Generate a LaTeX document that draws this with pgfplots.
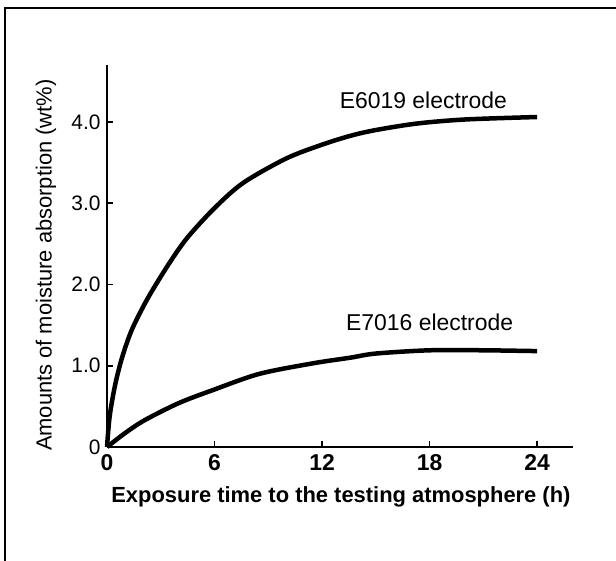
\documentclass[border=0pt]{standalone}
\usepackage{pgfplots}
\pgfplotsset{compat=1.18}
\usepackage{fontspec}
\setmainfont{Liberation Sans}
\begin{document}
\begin{tikzpicture}[x=1bp,y=1bp]
\path[use as bounding box] (0,0) rectangle (616,-561);
\draw[line width=2.4bp] (5,-561) -- (5,-8) -- (617,-8);
\begin{axis}[
  at={(107bp,-447bp)}, anchor=south west,
  scale only axis, width=466bp, height=382bp,
  xmin=0, xmax=26, ymin=0, ymax=4.7,
  axis lines*=left,
  axis line style={line width=2.2bp},
  tick align=inside,
  major tick length=6bp,
  every tick/.style={line width=1.6bp, black},
  xtick={0,6,12,18,24},
  ytick={0,1,2,3,4},
  yticklabels={0,1.0,2.0,3.0,4.0},
  /pgf/number format/assume math mode=true,
  x tick label style={font=\fontsize{23}{23}\selectfont\bfseries, yshift=-4bp},
  y tick label style={font=\fontsize{21}{21}\selectfont, xshift=-3bp},
  xlabel={Exposure time to the testing atmosphere (h)},
  ylabel={Amounts of moisture absorption (wt\%)},
  x label style={at={(axis description cs:0.502,-0.131)}, anchor=center, font=\fontsize{22}{22}\selectfont\bfseries},
  y label style={at={(axis description cs:-0.131,0.476)}, anchor=center, rotate=0, font=\fontsize{22}{22}\selectfont},
  clip=false,
]
\addplot[line width=4.5bp, black, smooth, tension=0.5] coordinates {
(0,0) (0.15,0.38) (0.45,0.76) (0.84,1.1) (1.4,1.45) (2.3,1.84) (3.5,2.27) (4.5,2.58) (6,2.94) (7.6,3.25) (10,3.55) (12,3.72) (13.6,3.83) (15,3.9) (17.3,3.98) (20,4.03) (24,4.06)
};
\addplot[line width=4.5bp, black, smooth, tension=0.5] coordinates {
(0,0) (1,0.17) (2.1,0.33) (4,0.54) (5.9,0.70) (8.5,0.9) (11.5,1.03) (13.6,1.1) (15,1.15) (18,1.19) (21,1.19) (24,1.18)
};
\node[font=\fontsize{23}{23}\selectfont] at (axis cs:17.65,4.27) {E6019 electrode};
\node[font=\fontsize{23}{23}\selectfont] at (axis cs:18.0,1.54) {E7016 electrode};
\end{axis}
\end{tikzpicture}
\end{document}
